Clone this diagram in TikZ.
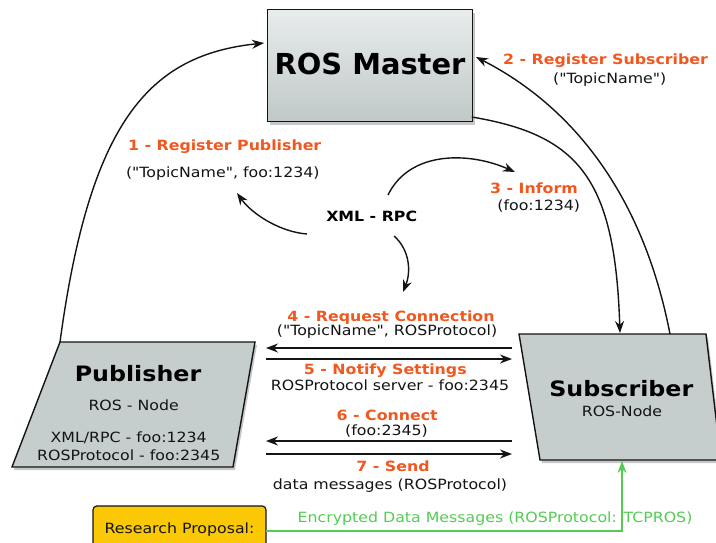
\documentclass[tikz,border=0pt]{standalone}
\usepackage{fontspec}
\setmainfont{DejaVu Sans}[FakeStretch=1.12, Ligatures=TeXOff]
\newfontfamily\masterfont{DejaVu Sans}[Ligatures=TeXOff]
\usetikzlibrary{arrows.meta}
\definecolor{orng}{RGB}{240,88,32}
\definecolor{grn}{RGB}{84,204,84}
\definecolor{ylw}{RGB}{250,200,5}
\definecolor{boxg}{RGB}{198,205,205}
\definecolor{edgec}{RGB}{20,20,20}
\begin{document}
\begin{tikzpicture}[x=1pt,y=-1pt,
  >={Stealth[length=12pt,width=9pt]},
  conn/.style={draw=edgec, line width=1.4pt, ->},
  txt/.style={anchor=base, inner sep=0pt, font=\fontsize{14.1}{16}\selectfont, text=edgec},
  otxt/.style={anchor=base, inner sep=0pt, font=\fontsize{14.1}{16}\selectfont\bfseries, text=orng},
  btxt/.style={anchor=base, inner sep=0pt, font=\fontsize{14.1}{16}\selectfont\bfseries, text=black},
  ttl/.style={anchor=base, inner sep=0pt, font=\fontsize{21.2}{24}\selectfont\bfseries, text=black},
  shadowc/.style={fill=black, opacity=0.22},
  boxline/.style={draw=edgec, line width=1.4pt},
]
\useasboundingbox (0,0) rectangle (716,542);
\clip (0,0) rectangle (716,542);
\fill[white] (0,0) rectangle (716,542);

% ROS Master
\fill[shadowc] (269.7,12.5) rectangle (475.2,124.5);
\node[boxline, top color={rgb,255:red,232;green,236;blue,236}, bottom color={rgb,255:red,192;green,200;blue,200},
      minimum width=205pt, minimum height=112pt, inner sep=0pt, anchor=north west] (master) at (266.7,9) {};
\node[anchor=base, inner sep=0pt, font=\masterfont\fontsize{28.9}{32}\selectfont\bfseries] (mtext) at (370,74.3) {ROS Master};

% Publisher
\coordinate (pA) at (60,342);
\coordinate (pB) at (255,342);
\coordinate (pC) at (233,467);
\coordinate (pD) at (12,467);
\fill[shadowc, shift={(2,3)}] (60,342) -- (255,342) -- (233,467) -- (12,467) -- cycle;
\draw[boxline, fill=boxg] (pA) -- (pB) -- (pC) -- (pD) -- cycle;
\node[ttl] (pubt) at (138,381.7) {Publisher};
\node[txt] (pubn) at (133.7,410) {ROS - Node};
\node[txt] (pubx) at (128.7,442) {XML/RPC - foo:1234};
\node[txt] (pubr) at (128.7,460.3) {ROSProtocol - foo:2345};

% Subscriber
\coordinate (sA) at (519,334);
\coordinate (sB2) at (706,334);
\coordinate (sC) at (721,460);
\coordinate (sD) at (540,460);
\fill[shadowc, shift={(2,3)}] (519,334) -- (706,334) -- (721,460) -- (540,460) -- cycle;
\draw[boxline, fill=boxg] (sA) -- (sB2) -- (sC) -- (sD) -- cycle;
\node[ttl] (subt) at (621.3,396.7) {Subscriber};
\node[txt] (subn) at (622,416.7) {ROS-Node};

% Top labels
\node[otxt] (l1) at (224.7,150) {1 - Register Publisher};
\node[txt] (l1b) at (222.8,177) {("TopicName", foo:1234)};
\node[otxt] (l2) at (605.5,64) {2 - Register Subscriber};
\node[txt] (l2b) at (609.7,83) {("TopicName")};
\node[otxt] (l3) at (534,193) {3 - Inform};
\node[txt] (l3b) at (538.8,210) {(foo:1234)};
\node[btxt] (xml) at (371.7,221.7) {XML - RPC};

% Middle labels
\node[otxt] (l4) at (391,321) {4 - Request Connection};
\node[txt] (l4b) at (387,335) {("TopicName", ROSProtocol)};
\node[otxt] (l5) at (385.3,374) {5 - Notify Settings};
\node[txt] (l5b) at (390,390) {ROSProtocol server - foo:2345};
\node[otxt] (l6) at (387.2,420) {6 - Connect};
\node[txt] (l6b) at (386.5,435) {(foo:2345)};
\node[otxt] (l7) at (393,471.5) {7 - Send};
\node[txt] (l7b) at (390,489) {data messages (ROSProtocol)};

% Curved connectors
\coordinate (mL) at (264,43);
\coordinate (mR) at (476,57);
\coordinate (mBR) at (471.7,117);
\coordinate (sT1) at (620,333);
\coordinate (sT2) at (670,334);
\draw[conn] (pA) .. controls (90,120) and (150,55) .. (mL);
\draw[conn] (sT2) .. controls (640,180) and (560,100) .. (mR);
\draw[conn] (mBR) .. controls (580,135) and (615,180) .. (sT1);

\coordinate (x1s) at (307,234);
\coordinate (x1e) at (237,193);
\coordinate (x2s) at (388,195);
\coordinate (x2e) at (515,172);
\coordinate (x3s) at (394,236);
\coordinate (x3e) at (403,292);
\draw[conn] (x1s) .. controls (280,232) and (252,214) .. (x1e);
\draw[conn] (x2s) .. controls (410,150) and (470,152) .. (x2e);
\draw[conn] (x3s) .. controls (410,250) and (411,272) .. (x3e);

% Horizontal connectors
\coordinate (h4l) at (266,348);   \coordinate (h4r) at (512,348);
\coordinate (h5l) at (266,359);   \coordinate (h5r) at (512,359);
\coordinate (h6l) at (266,441);   \coordinate (h6r) at (512,441);
\coordinate (h7l) at (266,454);   \coordinate (h7r) at (512,454);
\draw[conn] (h4r) -- (h4l);
\draw[conn] (h5l) -- (h5r);
\draw[conn] (h6r) -- (h6l);
\draw[conn] (h7l) -- (h7r);

% Research proposal
\node[draw=edgec, fill=ylw, rounded corners=4pt, line width=1.2pt, minimum width=173pt, minimum height=47pt,
      inner sep=0pt, font=\fontsize{14.1}{16}\selectfont, text=edgec] (rp) at (179.5,529.4) {Research Proposal:};
\node[txt, text=grn] (gtext) at (495,522.7) {Encrypted Data Messages (ROSProtocol: TCPROS)};
\coordinate (gs) at (266,531);
\coordinate (sBot) at (622,461);
\draw[grn, line width=1.3pt, ->] (gs) -| (sBot);
\end{tikzpicture}
\end{document}
